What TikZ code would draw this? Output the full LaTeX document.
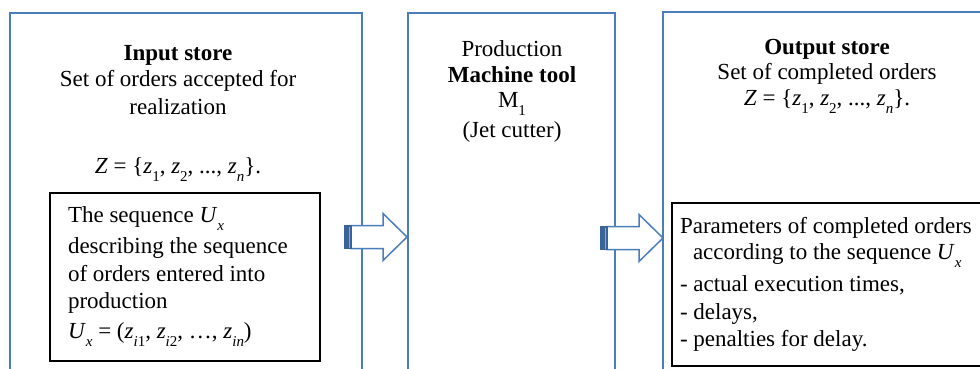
\documentclass[tikz,border=0pt]{standalone}
\usepackage{fontspec}
\setmainfont{Liberation Serif}
\usetikzlibrary{calc}
\definecolor{boxblue}{RGB}{74,126,187}
\definecolor{darkblue}{RGB}{58,100,150}
\definecolor{stripeblue}{RGB}{140,170,210}
\newcommand\sbs[1]{\raisebox{-0.36em}{\fontsize{15}{15}\selectfont #1}}
\newcommand\iz{\textit{z}}
\begin{document}
\begin{tikzpicture}[x=1pt,y=-1pt,
  every node/.style={font=\fontsize{23}{27}\selectfont, inner sep=0pt, outer sep=0pt},
  bigbox/.style={draw=boxblue, line width=2pt, anchor=north west},
  innerbox/.style={draw=black, line width=2pt, fill=white, anchor=north west},
  cline/.style={anchor=base},
  lline/.style={anchor=base west},
  blockarr/.pic={
    \draw[boxblue, line width=1.5pt, fill=white, line join=miter]
      (-56,-11.5) -- (-24,-11.5) -- (-24,-23.5) -- (0,0) -- (-24,23.5) -- (-24,11.5) -- (-56,11.5) -- cycle;
    \fill[darkblue] (-63,-12.2) rectangle (-55,12.2);
    \fill[stripeblue] (-58.5,-10.5) rectangle (-57,10.5);
  }]
\useasboundingbox (0,0) rectangle (980,369);
\clip (0,0) rectangle (980,369);
% outer boxes
\node[bigbox, minimum width=352pt, minimum height=420pt] (inbox) at (10,13) {};
\node[bigbox, minimum width=207pt, minimum height=420pt] (prod) at (408,13) {};
\node[bigbox, minimum width=352pt, minimum height=420pt] (outbox) at (663,12) {};
% inner boxes
\node[innerbox, minimum width=270pt, minimum height=168pt] (seqbox) at (50,193) {};
\node[innerbox, minimum width=340pt, minimum height=163pt] (parbox) at (672,203) {};
% block arrows
\pic at ($(prod.north west)+(-1,224)$) {blockarr};
\pic at ($(outbox.north west)+(0,226)$) {blockarr};
% input store texts
\node[cline] (t1a) at (178,61) {\textbf{Input store}};
\node[cline] (t1b) at (178,87) {Set of orders accepted for};
\node[cline] (t1c) at (178,114) {realization};
\node[cline] (t1d) at (178,173) {\textit{Z} = \{\iz\sbs{1}, \iz\sbs{2}, ..., \iz\sbs{\textit{n}}\}.};
\node[lline] (s1) at (68,222) {The sequence \textit{U}\sbs{\textit{x}}};
\node[lline] (s2) at (68,253) {describing the sequence};
\node[lline] (s3) at (68,281) {of orders entered into};
\node[lline] (s4) at (68,308) {production};
\node[lline] (s5) at (68,338) {\textit{U}\sbs{\textit{x}} = (\iz\sbs{\textit{i}1}, \iz\sbs{\textit{i}2}, …, \iz\sbs{\textit{in}})};
% production texts
\node[cline] (p1) at (512,57) {Production};
\node[cline] (p2) at (512,83) {\textbf{Machine tool}};
\node[cline] (p3) at (512,107) {M\sbs{1}};
\node[cline] (p4) at (512,137) {(Jet cutter)};
% output store texts
\node[cline] (o1) at (827,55) {\textbf{Output store}};
\node[cline] (o2) at (827,80) {Set of completed orders};
\node[cline] (o3) at (827,105) {\textit{Z} = \{\iz\sbs{1}, \iz\sbs{2}, ..., \iz\sbs{\textit{n}}\}.};
\node[lline] (q1) at (680,233) {Parameters of completed orders};
\node[lline] (q2) at (693,259) {according to the sequence \textit{U}\sbs{\textit{x}}};
\node[lline] (q3) at (680,291) {- actual execution times,};
\node[lline] (q4) at (680,319) {- delays,};
\node[lline] (q5) at (680,346) {- penalties for delay.};
\end{tikzpicture}
\end{document}
